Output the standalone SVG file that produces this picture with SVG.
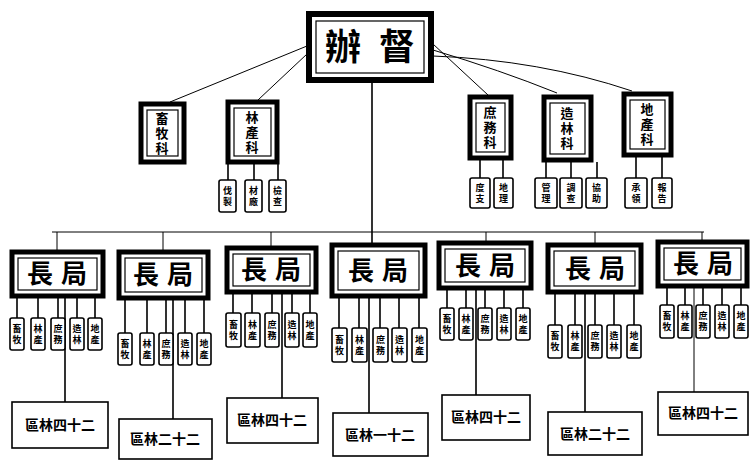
<svg xmlns="http://www.w3.org/2000/svg" width="750" height="461" viewBox="0 0 750 461" xml:lang="zh-Hant" lang="zh-Hant">
<style>
.bg{fill:#fff}
.thick{fill:#fff;stroke:#000;stroke-width:5}
.inner{fill:none;stroke:#000;stroke-width:1.2}
.sub{fill:#fff;stroke:#000;stroke-width:1.6}
.dist{fill:#fff;stroke:#000;stroke-width:1.6}
.ln{stroke:#000;stroke-width:1.6;fill:none}
.thin{stroke:#000;stroke-width:1;fill:none}
text{font-family:"Noto Sans CJK TC","Noto Sans CJK SC",sans-serif;font-weight:700;fill:#000;text-anchor:middle}
.v{writing-mode:vertical-rl}
.t1{font-size:36px;letter-spacing:18px}
.t2{font-size:13px;letter-spacing:2px}
.t3{font-size:26px;letter-spacing:8px}
.t4{font-size:9px;letter-spacing:2px}
.t5{font-size:14px}
</style>
<rect class="bg" width="750" height="461"/>
<g id="connectors">
  <path class="thin" d="M307,46 L170,102 M307,54 L258,100"/>
  <path class="thin" d="M433,44 L488,95 M433,50 Q500,70 557,93 M433,56 Q540,60 632,91"/>
  <path class="ln" d="M372,82 L372,243"/>
  <path class="thin" d="M52,232 L704,232"/>
  <path class="thin" d="M57,232 V250 M163,232 V250 M271,232 V246 M486,232 V241 M595,232 V243 M702,232 V240"/>
  <path class="ln" d="M228,163 V180 M254,163 V180 M278,163 V180"/>
  <path class="ln" d="M480,160 V178 M503,160 V178"/>
  <path class="ln" d="M546,162 V178 M571,162 V178 M597,162 V178"/>
  <path class="ln" d="M636,157 V178 M662,157 V178"/>
  <path class="ln" d="M17,298 V318 M38,298 V318 M58,298 V318 M77,298 V318 M95,298 V318 M65,298 V402"/>
  <path class="ln" d="M125,300 V333 M147,300 V333 M166,300 V333 M185,300 V333 M204,300 V333 M173,300 V419"/>
  <path class="ln" d="M233,294 V313 M252,294 V313 M272,294 V313 M292,294 V313 M310,294 V313 M282,294 V398"/>
  <path class="ln" d="M339,298 V328 M359,298 V328 M380,298 V328 M399,298 V328 M419,298 V328 M369,298 V413"/>
  <path class="ln" d="M447,290 V308 M466,290 V308 M485,290 V308 M504,290 V308 M523,290 V308 M476,290 V395"/>
  <path class="ln" d="M555,294 V325 M575,294 V325 M595,294 V325 M614,294 V325 M634,294 V325 M585,294 V412"/>
  <path class="ln" d="M667,288 V305 M685,288 V305 M703,288 V305 M722,288 V305 M741,288 V305"/>
  <path class="thin" d="M694,288 V392"/>
</g>
<g id="top">
  <rect x="309" y="14" width="122" height="66" fill="#fff" stroke="#000" stroke-width="6"/>
  <rect x="316" y="21" width="108" height="52" class="inner"/>
  <text class="t1" x="379" y="60">辦督</text>
</g>
<g id="s1">
  <rect class="thick" x="141" y="104" width="43" height="58"/>
  <rect class="inner" x="147" y="110" width="31" height="46"/>
  <text class="t2 v" x="162" y="134">畜牧科</text>
</g>
<g id="s2">
  <rect class="thick" x="228" y="102" width="49" height="60"/>
  <rect class="inner" x="234" y="108" width="37" height="48"/>
  <text class="t2 v" x="252" y="133">林產科</text>
</g>
<g id="s3">
  <rect class="thick" x="470" y="97" width="41" height="61"/>
  <rect class="inner" x="476" y="103" width="29" height="49"/>
  <text class="t2 v" x="490" y="128">庶務科</text>
</g>
<g id="s4">
  <rect class="thick" x="544" y="97" width="47" height="63"/>
  <rect class="inner" x="550" y="103" width="35" height="51"/>
  <text class="t2 v" x="567" y="129">造林科</text>
</g>
<g id="s5">
  <rect class="thick" x="624" y="94" width="47" height="61"/>
  <rect class="inner" x="630" y="100" width="35" height="49"/>
  <text class="t2 v" x="647" y="125">地產科</text>
</g>
<g id="s2subs">
  <rect class="sub" x="219" y="180" width="17" height="32" rx="2"/><text class="t4 v" x="227.5" y="197">伐製</text>
  <rect class="sub" x="245" y="180" width="17" height="32" rx="2"/><text class="t4 v" x="253.5" y="197">材廠</text>
  <rect class="sub" x="269" y="180" width="17" height="32" rx="2"/><text class="t4 v" x="277.5" y="197">檢查</text>
</g>
<g id="s3subs">
  <rect class="sub" x="470" y="178" width="20" height="30" rx="2"/><text class="t4 v" x="480" y="194">度支</text>
  <rect class="sub" x="494" y="178" width="19" height="30" rx="2"/><text class="t4 v" x="503.5" y="194">地理</text>
</g>
<g id="s4subs">
  <rect class="sub" x="535" y="178" width="22" height="30" rx="2"/><text class="t4 v" x="546" y="194">管理</text>
  <rect class="sub" x="560" y="178" width="22" height="30" rx="2"/><text class="t4 v" x="571" y="194">調查</text>
  <rect class="sub" x="586" y="178" width="21" height="30" rx="2"/><text class="t4 v" x="596.5" y="194">協助</text>
</g>
<g id="s5subs">
  <rect class="sub" x="625" y="178" width="22" height="30" rx="2"/><text class="t4 v" x="636" y="194">承領</text>
  <rect class="sub" x="652" y="178" width="20" height="30" rx="2"/><text class="t4 v" x="662" y="194">報告</text>
</g>
<g id="b1">
  <rect class="thick" x="12" y="252" width="91" height="44"/>
  <rect class="inner" x="18" y="258" width="79" height="32"/>
  <text class="t3" x="61" y="283">長局</text>
  <g>
    <rect class="sub" x="10" y="318" width="14" height="32" rx="2"/><text class="t4 v" x="17" y="335">畜牧</text>
    <rect class="sub" x="31" y="318" width="14" height="32" rx="2"/><text class="t4 v" x="38" y="335">林產</text>
    <rect class="sub" x="51" y="318" width="14" height="32" rx="2"/><text class="t4 v" x="58" y="335">庶務</text>
    <rect class="sub" x="70" y="318" width="14" height="32" rx="2"/><text class="t4 v" x="77" y="335">造林</text>
    <rect class="sub" x="88" y="318" width="14" height="32" rx="2"/><text class="t4 v" x="95" y="335">地產</text>
  </g>
</g>
<g id="b2">
  <rect class="thick" x="119" y="252" width="89" height="46"/>
  <rect class="inner" x="125" y="258" width="77" height="34"/>
  <text class="t3" x="167" y="284">長局</text>
  <g>
    <rect class="sub" x="118" y="333" width="14" height="32" rx="2"/><text class="t4 v" x="125" y="350">畜牧</text>
    <rect class="sub" x="140" y="333" width="14" height="32" rx="2"/><text class="t4 v" x="147" y="350">林產</text>
    <rect class="sub" x="159" y="333" width="14" height="32" rx="2"/><text class="t4 v" x="166" y="350">庶務</text>
    <rect class="sub" x="178" y="333" width="14" height="32" rx="2"/><text class="t4 v" x="185" y="350">造林</text>
    <rect class="sub" x="197" y="333" width="14" height="32" rx="2"/><text class="t4 v" x="204" y="350">地產</text>
  </g>
</g>
<g id="b3">
  <rect class="thick" x="227" y="248" width="89" height="44"/>
  <rect class="inner" x="233" y="254" width="77" height="32"/>
  <text class="t3" x="275" y="279">長局</text>
  <g>
    <rect class="sub" x="226" y="313" width="15" height="34" rx="2"/><text class="t4 v" x="233.5" y="331">畜牧</text>
    <rect class="sub" x="245" y="313" width="15" height="34" rx="2"/><text class="t4 v" x="252.5" y="331">林產</text>
    <rect class="sub" x="265" y="313" width="14" height="34" rx="2"/><text class="t4 v" x="272" y="331">庶務</text>
    <rect class="sub" x="285" y="313" width="14" height="34" rx="2"/><text class="t4 v" x="292" y="331">造林</text>
    <rect class="sub" x="303" y="313" width="14" height="34" rx="2"/><text class="t4 v" x="310" y="331">地產</text>
  </g>
</g>
<g id="b4">
  <rect class="thick" x="332" y="245" width="93" height="51"/>
  <rect class="inner" x="338" y="251" width="81" height="39"/>
  <text class="t3" x="382" y="280">長局</text>
  <g>
    <rect class="sub" x="332" y="328" width="15" height="34" rx="2"/><text class="t4 v" x="339.5" y="346">畜牧</text>
    <rect class="sub" x="352" y="328" width="15" height="34" rx="2"/><text class="t4 v" x="359.5" y="346">林產</text>
    <rect class="sub" x="373" y="328" width="15" height="34" rx="2"/><text class="t4 v" x="380.5" y="346">庶務</text>
    <rect class="sub" x="392" y="328" width="15" height="34" rx="2"/><text class="t4 v" x="399.5" y="346">造林</text>
    <rect class="sub" x="412" y="328" width="15" height="34" rx="2"/><text class="t4 v" x="419.5" y="346">地產</text>
  </g>
</g>
<g id="b5">
  <rect class="thick" x="439" y="243" width="92" height="45"/>
  <rect class="inner" x="445" y="249" width="80" height="33"/>
  <text class="t3" x="489" y="275">長局</text>
  <g>
    <rect class="sub" x="440" y="308" width="14" height="32" rx="2"/><text class="t4 v" x="447" y="325">畜牧</text>
    <rect class="sub" x="459" y="308" width="14" height="32" rx="2"/><text class="t4 v" x="466" y="325">林產</text>
    <rect class="sub" x="478" y="308" width="14" height="32" rx="2"/><text class="t4 v" x="485" y="325">庶務</text>
    <rect class="sub" x="497" y="308" width="14" height="32" rx="2"/><text class="t4 v" x="504" y="325">造林</text>
    <rect class="sub" x="516" y="308" width="14" height="32" rx="2"/><text class="t4 v" x="523" y="325">地產</text>
  </g>
</g>
<g id="b6">
  <rect class="thick" x="548" y="245" width="93" height="47"/>
  <rect class="inner" x="554" y="251" width="81" height="35"/>
  <text class="t3" x="599" y="278">長局</text>
  <g>
    <rect class="sub" x="548" y="325" width="14" height="33" rx="2"/><text class="t4 v" x="555" y="342">畜牧</text>
    <rect class="sub" x="568" y="325" width="14" height="33" rx="2"/><text class="t4 v" x="575" y="342">林產</text>
    <rect class="sub" x="588" y="325" width="14" height="33" rx="2"/><text class="t4 v" x="595" y="342">庶務</text>
    <rect class="sub" x="607" y="325" width="14" height="33" rx="2"/><text class="t4 v" x="614" y="342">造林</text>
    <rect class="sub" x="627" y="325" width="14" height="33" rx="2"/><text class="t4 v" x="634" y="342">地產</text>
  </g>
</g>
<g id="b7">
  <rect class="thick" x="658" y="242" width="89" height="44"/>
  <rect class="inner" x="664" y="248" width="77" height="32"/>
  <text class="t3" x="707" y="273">長局</text>
  <g>
    <rect class="sub" x="660" y="305" width="14" height="33" rx="2"/><text class="t4 v" x="667" y="322">畜牧</text>
    <rect class="sub" x="678" y="305" width="14" height="33" rx="2"/><text class="t4 v" x="685" y="322">林產</text>
    <rect class="sub" x="696" y="305" width="14" height="33" rx="2"/><text class="t4 v" x="703" y="322">庶務</text>
    <rect class="sub" x="715" y="305" width="14" height="33" rx="2"/><text class="t4 v" x="722" y="322">造林</text>
    <rect class="sub" x="734" y="305" width="14" height="33" rx="2"/><text class="t4 v" x="741" y="322">地產</text>
  </g>
</g>
<g id="d1"><rect class="dist" x="12" y="402" width="96" height="46"/><text class="t5" x="60" y="430">區林四十二</text></g>
<g id="d2"><rect class="dist" x="119" y="419" width="93" height="40"/><text class="t5" x="165" y="444">區林二十二</text></g>
<g id="d3"><rect class="dist" x="227" y="398" width="91" height="45"/><text class="t5" x="272" y="425">區林四十二</text></g>
<g id="d4"><rect class="dist" x="333" y="413" width="95" height="43"/><text class="t5" x="380" y="440">區林一十二</text></g>
<g id="d5"><rect class="dist" x="442" y="395" width="88" height="45"/><text class="t5" x="486" y="422">區林四十二</text></g>
<g id="d6"><rect class="dist" x="548" y="412" width="94" height="43"/><text class="t5" x="595" y="439">區林二十二</text></g>
<g id="d7"><rect class="dist" x="658" y="392" width="90" height="43"/><text class="t5" x="703" y="418">區林四十二</text></g>
</svg>
